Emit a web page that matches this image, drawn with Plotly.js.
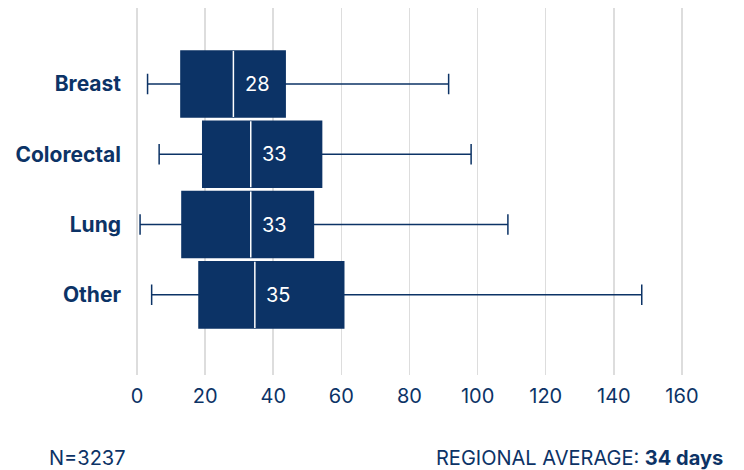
<!DOCTYPE html>
<html>
<head>
<meta charset="utf-8">
<script src="https://cdn.plot.ly/plotly-3.0.1.min.js"></script>
<style>html,body{margin:0;padding:0;background:#fff;}#chart{width:744px;height:470px;}</style>
</head>
<body>
<div id="chart"></div>
<script>
// Data (days)
var categories = ["Breast", "Colorectal", "Lung", "Other"];
var lowerWhisker = [3.1, 6.5, 0.9, 4.3];
var q1Values = [12.9, 19.3, 13.2, 18.2];
var medianValues = [28.3, 33.4, 33.4, 34.6];
var q3Values = [43.5, 54.2, 51.8, 60.7];
var upperWhisker = [91.5, 98.1, 108.9, 148.2];
var xTickValues = [0, 20, 40, 60, 80, 100, 120, 140, 160];
var sampleSizeText = "N=3237";
var regionalAverage = 34;

var navy = "#0c3366";
var fontFam = "Inter, 'Open Sans', sans-serif";
var boxWidth = 0.94;

var trace = {
  type: "box",
  orientation: "h",
  y: categories,
  q1: q1Values,
  median: medianValues,
  q3: q3Values,
  lowerfence: lowerWhisker,
  upperfence: upperWhisker,
  width: boxWidth,
  whiskerwidth: 0.31,
  fillcolor: navy,
  line: {color: navy, width: 1.5},
  boxpoints: false,
  hoverinfo: "skip",
  showlegend: false
};

var shapes = categories.map(function (c, i) {
  return {
    type: "line", xref: "x", yref: "y",
    x0: medianValues[i], x1: medianValues[i],
    y0: i - boxWidth / 2, y1: i + boxWidth / 2,
    line: {color: "#ffffff", width: 1.5},
    layer: "above"
  };
});

var annotations = categories.map(function (c, i) {
  return {
    xref: "x", yref: "y", x: medianValues[i], y: c,
    text: String(Math.round(medianValues[i])),
    showarrow: false, xanchor: "center", yanchor: "middle",
    xshift: 24,
    font: {family: fontFam, size: 20, color: "#ffffff"}
  };
});
annotations.push({
  xref: "paper", yref: "paper", x: -0.1554, y: -0.226,
  xanchor: "left", yanchor: "middle", showarrow: false,
  text: sampleSizeText,
  font: {family: fontFam, size: 20, color: navy}
});
annotations.push({
  xref: "paper", yref: "paper", x: 1.0155, y: -0.226,
  xanchor: "right", yanchor: "middle", showarrow: false,
  text: "REGIONAL AVERAGE: <b>" + regionalAverage + " days</b>",
  font: {family: fontFam, size: 20, color: navy}
});

var layout = {
  width: 744, height: 470,
  margin: {l: 137, r: 28, t: 8, b: 95},
  paper_bgcolor: "#ffffff",
  plot_bgcolor: "#ffffff",
  showlegend: false,
  xaxis: {
    range: [0, 170],
    tickvals: xTickValues,
    showgrid: true, gridcolor: "#dddddd", gridwidth: 1.5,
    zeroline: true, zerolinecolor: "#dddddd", zerolinewidth: 1.5,
    showline: false, ticks: "",
    ticklabelstandoff: 7,
    tickfont: {family: fontFam, size: 20, color: navy},
    fixedrange: true
  },
  yaxis: {
    type: "category",
    categoryorder: "array", categoryarray: categories,
    range: [4.14, -1.08],
    showgrid: false, zeroline: false, showline: false, ticks: "",
    ticklabelstandoff: 15,
    tickfont: {family: fontFam, size: 21, color: navy, weight: "bold"},
    fixedrange: true
  },
  shapes: shapes,
  annotations: annotations
};

Plotly.newPlot("chart", [trace], layout, {displayModeBar: false, staticPlot: true});
</script>
</body>
</html>
